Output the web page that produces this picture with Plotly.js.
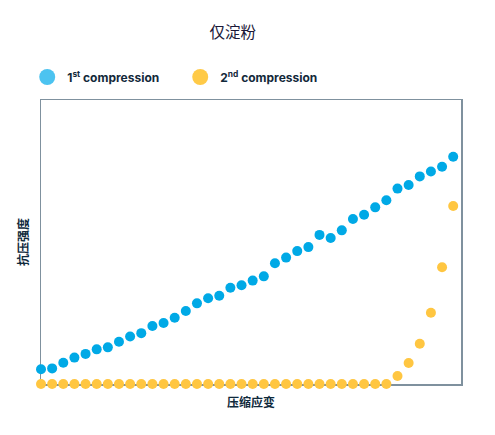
<!DOCTYPE html>
<html>
<head>
<meta charset="utf-8">
<script src="https://cdn.plot.ly/plotly-3.0.1.min.js"></script>
<style>
  html, body { margin: 0; padding: 0; background: #fff; }
  #chart { width: 495px; height: 435px; }
</style>
</head>
<body>
<div id="chart"></div>
<script>
// Datos (escala 0-100 del eje de resistencia)
const strainSteps = Array.from({length: 38}, (_, i) => i);

const firstCompression = [
    5.2, 5.5, 7.5, 9.3, 10.6, 12.2, 12.9, 14.9, 16.7, 17.9,
    20.4, 21.5, 23.3, 25.7, 28.4, 30.2, 31.1, 33.9, 34.8, 36.4,
    37.9, 42.5, 44.5, 46.8, 48.2, 52.5, 51.4, 54.1, 58.1, 59.6,
    62.2, 64.7, 68.8, 70.1, 73.1, 74.8, 76.5, 80.0
];

const secondCompression = [
    0, 0, 0, 0, 0, 0, 0, 0, 0, 0,
    0, 0, 0, 0, 0, 0, 0, 0, 0, 0,
    0, 0, 0, 0, 0, 0, 0, 0, 0, 0,
    0, 0, 2.8, 7.4, 14.2, 25.1, 41.1, 62.7
];

const seriesNames = ['1<sup>st</sup> compression', '2<sup>nd</sup> compression'];

const blue = '#00a9e6';
const yellow = '#ffc641';

const cjkFont = '"Noto Sans CJK SC", "Noto Sans", sans-serif';

const data = [
    {
        x: strainSteps,
        y: firstCompression,
        type: 'scatter',
        mode: 'markers',
        marker: { color: blue, size: 10 },
        cliponaxis: false,
        showlegend: false,
        hoverinfo: 'skip'
    },
    {
        x: strainSteps,
        y: secondCompression,
        type: 'scatter',
        mode: 'markers',
        marker: { color: yellow, size: 10 },
        cliponaxis: false,
        showlegend: false,
        hoverinfo: 'skip'
    },
    // Entradas de leyenda con marcadores más grandes
    {
        x: [null], y: [null],
        type: 'scatter', mode: 'markers',
        name: seriesNames[0],
        marker: { color: '#4cc3f0', size: 16 }
    },
    {
        x: [null], y: [null],
        type: 'scatter', mode: 'markers',
        name: seriesNames[1],
        marker: { color: '#ffca47', size: 16 }
    }
];

const axisLine = '#7f919e';

const layout = {
    width: 495,
    height: 435,
    paper_bgcolor: '#ffffff',
    plot_bgcolor: '#ffffff',
    margin: { l: 40.5, r: 33.5, t: 100, b: 51 },
    title: {
        text: '仅淀粉',
        font: { family: cjkFont, size: 15.5, color: '#1a1838' },
        x: 0.47,
        xanchor: 'center',
        y: 1 - 33 / 435,
        yanchor: 'middle',
        yref: 'container'
    },
    showlegend: true,
    legend: {
        orientation: 'h',
        x: 0.055,
        xref: 'container',
        xanchor: 'left',
        y: 1 - 77 / 435,
        yref: 'container',
        yanchor: 'middle',
        entrywidth: 108,
        font: { family: 'Inter, "DejaVu Sans", sans-serif', size: 12, color: '#13293a', weight: 'bold' },
        traceorder: 'normal'
    },
    xaxis: {
        range: [0, 37.7],
        showgrid: false,
        zeroline: false,
        showticklabels: false,
        ticks: '',
        showline: true,
        mirror: true,
        linecolor: axisLine,
        linewidth: 1.5,
        layer: 'below traces',
        title: {
            text: '压缩应变',
            font: { family: cjkFont, size: 12, color: '#0f2a3c', weight: 'bold' },
            standoff: 14
        },
        automargin: false,
        fixedrange: true
    },
    yaxis: {
        range: [0, 100],
        showgrid: false,
        zeroline: false,
        showticklabels: false,
        ticks: '',
        showline: true,
        mirror: true,
        linecolor: axisLine,
        linewidth: 1.5,
        layer: 'below traces',
        title: {
            text: '抗压强度',
            font: { family: cjkFont, size: 12, color: '#0f2a3c', weight: 'bold' },
            standoff: 8
        },
        automargin: false,
        fixedrange: true
    }
};

Plotly.newPlot('chart', data, layout, { displayModeBar: false, staticPlot: true });
</script>
</body>
</html>
